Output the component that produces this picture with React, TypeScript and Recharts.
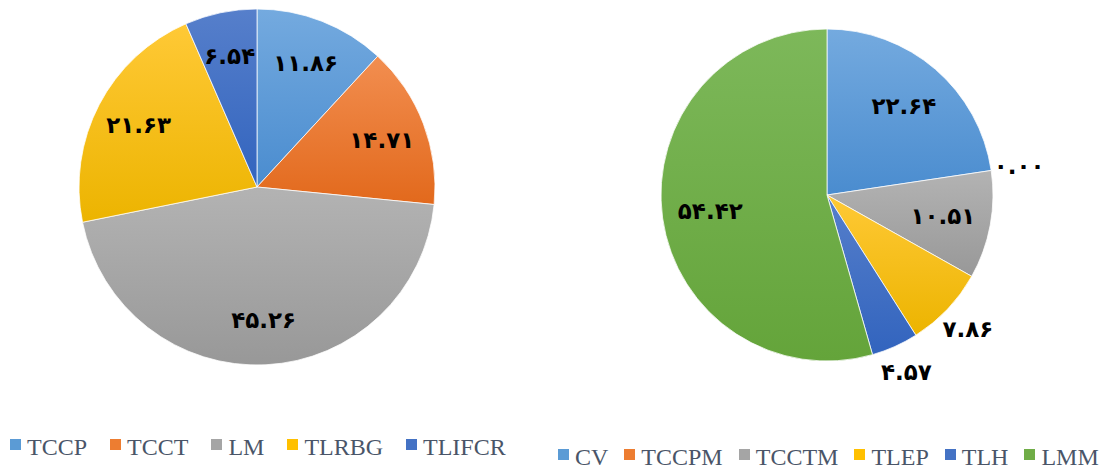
import { PieChart, Pie, Cell, Legend } from 'recharts';

const LEFT_NAMES = ['TCCP', 'TCCT', 'LM', 'TLRBG', 'TLIFCR'];
const LEFT_VALUES = [11.86, 14.71, 45.26, 21.63, 6.54];

const RIGHT_NAMES = ['CV', 'TCCPM', 'TCCTM', 'TLEP', 'TLH', 'LMM'];
const RIGHT_VALUES = [22.64, 0.0, 10.51, 7.86, 4.57, 54.42];

// Office-style fills: light at the top of each slice, darker at the bottom.
const PALETTE = [
  { flat: '#5B9BD5', top: '#74AADF', bottom: '#4A8CCF' },
  { flat: '#ED7D31', top: '#F28E50', bottom: '#E2691C' },
  { flat: '#A5A5A5', top: '#B3B3B3', bottom: '#989898' },
  { flat: '#FFC000', top: '#FFC936', bottom: '#ECB400' },
  { flat: '#4472C4', top: '#567FCB', bottom: '#3264BE' },
  { flat: '#70AD47', top: '#7DB85A', bottom: '#64A43A' },
];

const FA_DIGITS = '۰۱۲۳۴۵۶۷۸۹';

/** 45.26 -> "۴۵.۲۶" */
function toFa(v: number): string {
  return v.toFixed(2).replace(/\d/g, (d) => FA_DIGITS[Number(d)]);
}

interface PieBlockProps {
  id: string;
  names: string[];
  values: number[];
  left: number;
  width: number;
  cx: number;
  cy: number;
  r: number;
  insideMin: number;
  insideR: number;
  legendLeft: number;
  legendTop: number;
  legendGap: number;
}

function PieBlock(p: PieBlockProps): JSX.Element {
  const data = p.names.map((name, i) => ({ name, value: p.values[i] }));

  const renderLabel = (props: any) => {
    const { cx, cy, midAngle, outerRadius, value } = props;
    const inside = value >= p.insideMin;
    const rr = outerRadius * (inside ? p.insideR : 1.17);
    const rad = (-midAngle * Math.PI) / 180;
    return (
      <text
        x={cx + rr * Math.cos(rad)}
        y={cy + rr * Math.sin(rad)}
        textAnchor="middle"
        dominantBaseline="central"
        fill="#000"
        fontSize={23}
        fontWeight="bold"
        fontFamily="'DejaVu Sans', sans-serif"
      >
        {toFa(value)}
      </text>
    );
  };

  // Keep the series order (the built-in payload comes back sorted by name).
  const renderLegend = () => (
    <div style={{ display: 'flex', alignItems: 'flex-start', whiteSpace: 'nowrap' }}>
      {p.names.map((name, i) => (
        <div
          key={name}
          style={{ display: 'flex', alignItems: 'flex-start', marginRight: p.legendGap }}
        >
          <span
            style={{
              display: 'inline-block',
              width: 11,
              height: 11,
              marginTop: 4,
              background: PALETTE[i].flat,
              marginRight: 6,
            }}
          />
          <span
            style={{
              fontFamily: "'Liberation Serif', 'Times New Roman', Times, serif",
              fontSize: 24,
              color: '#4A5568',
              lineHeight: '24px',
            }}
          >
            {name}
          </span>
        </div>
      ))}
    </div>
  );

  return (
    <div style={{ position: 'absolute', left: p.left, top: 0 }}>
      <PieChart width={p.width} height={469} margin={{ top: 0, right: 0, bottom: 0, left: 0 }}>
        <defs>
          {PALETTE.map((c, i) => (
            <linearGradient key={i} id={`${p.id}-g${i}`} x1="0" y1="0" x2="0" y2="1">
              <stop offset="0%" stopColor={c.top} />
              <stop offset="100%" stopColor={c.bottom} />
            </linearGradient>
          ))}
        </defs>
        <Pie
          data={data}
          dataKey="value"
          nameKey="name"
          cx={p.cx}
          cy={p.cy}
          outerRadius={p.r}
          startAngle={90}
          endAngle={-270}
          stroke="#ffffff"
          strokeWidth={0.75}
          label={renderLabel}
          labelLine={false}
          isAnimationActive={false}
        >
          {data.map((_, i) => (
            <Cell key={i} fill={`url(#${p.id}-g${i})`} />
          ))}
        </Pie>
        <Legend
          content={renderLegend}
          wrapperStyle={{ position: 'absolute', left: p.legendLeft, top: p.legendTop, width: 'auto' }}
        />
      </PieChart>
    </div>
  );
}

export default function App(): JSX.Element {
  return (
    <div
      style={{
        position: 'absolute',
        left: 0,
        top: 0,
        width: 1101,
        height: 469,
        background: '#ffffff',
        overflow: 'hidden',
      }}
    >
      <PieBlock
        id="left"
        names={LEFT_NAMES}
        values={LEFT_VALUES}
        left={0}
        width={540}
        cx={257}
        cy={187}
        r={178}
        insideMin={0}
        insideR={0.75}
        legendLeft={10}
        legendTop={435}
        legendGap={23}
      />
      <PieBlock
        id="right"
        names={RIGHT_NAMES}
        values={RIGHT_VALUES}
        left={540}
        width={561}
        cx={287}
        cy={195}
        r={166}
        insideMin={10}
        insideR={0.71}
        legendLeft={18}
        legendTop={445}
        legendGap={16}
      />
    </div>
  );
}
